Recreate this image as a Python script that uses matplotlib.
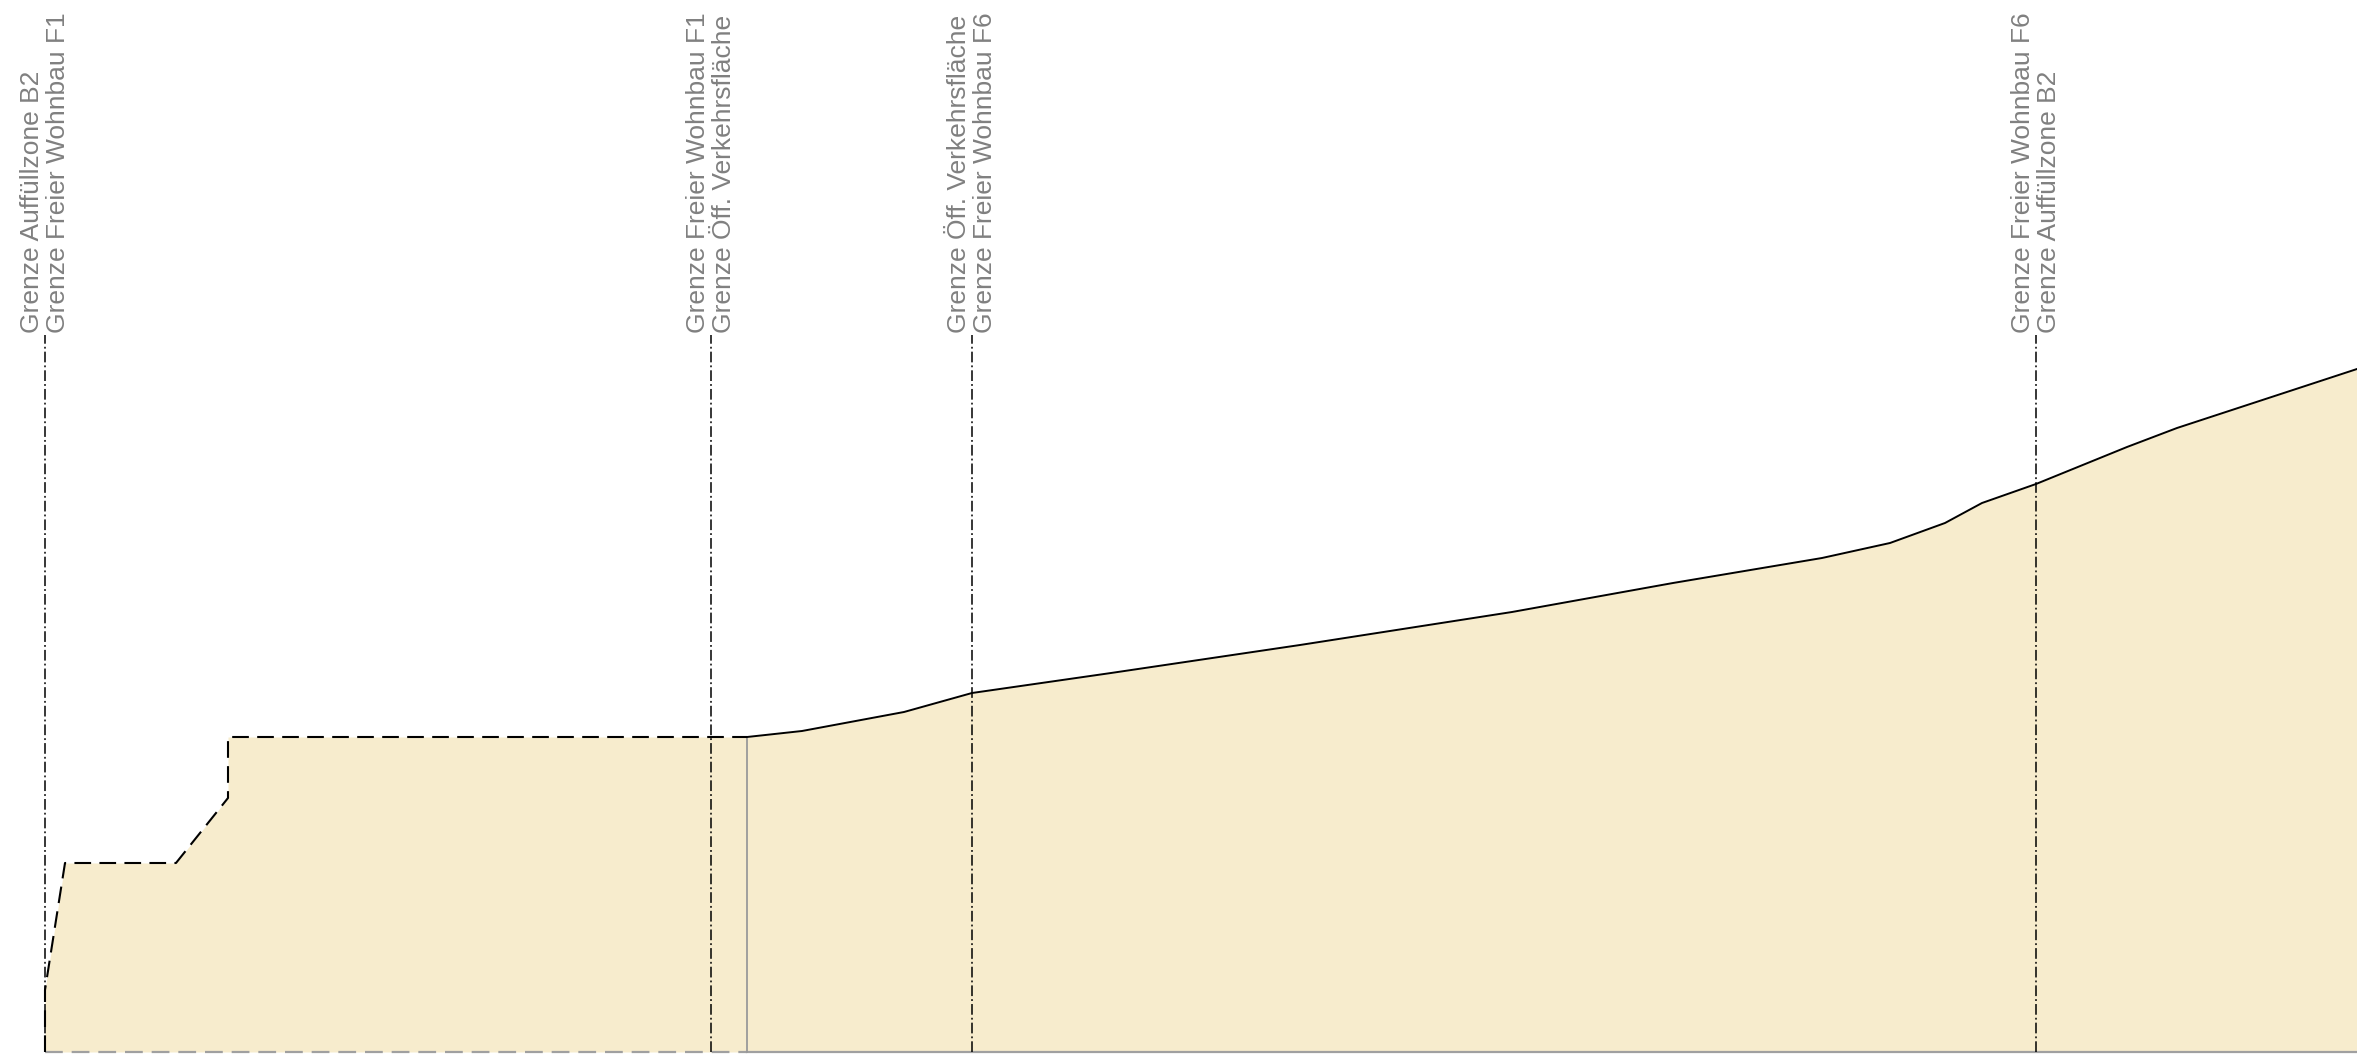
import matplotlib
matplotlib.use("Agg")
import matplotlib.pyplot as plt
import numpy as np

# Gelaendeschnitt: Abstand [m], Hoehe [m]
# geplante Aufschuettung (gestrichelt)
fill_x = [0.0, 0.0, 1.0, 6.55, 9.15, 9.15, 35.1]
fill_z = [100.0, 103.1, 109.45, 109.45, 112.7, 115.75, 115.75]

# bestehendes Gelaende (durchgezogen)
terrain_x = [35.1, 37.85, 42.95, 46.35, 53.3, 62.75, 73.35, 81.4, 88.85,
             92.25, 95.0, 96.85, 99.55, 104.1, 106.6, 115.6]
terrain_z = [115.75, 116.05, 117.0, 117.95, 118.95, 120.35, 122.0, 123.45,
             124.7, 125.45, 126.45, 127.45, 128.4, 130.25, 131.2, 134.15]

# Grenzen
boundary_x = [0.0, 33.3, 46.35, 99.55]
boundary_labels = [
    "Grenze Auffüllzone B2\nGrenze Freier Wohnbau F1",
    "Grenze Freier Wohnbau F1\nGrenze Öff. Verkehrsfläche",
    "Grenze Öff. Verkehrsfläche\nGrenze Freier Wohnbau F6",
    "Grenze Freier Wohnbau F6\nGrenze Auffüllzone B2",
]
boundary_top = 135.85
base_z = 100.0

fig = plt.figure(figsize=(23.57, 10.60), dpi=100)
ax = fig.add_axes([0, 0, 1, 1])

# Flaeche
prof_x = np.array(fill_x + terrain_x[1:])
prof_z = np.array(fill_z + terrain_z[1:])
ax.fill_between(prof_x, base_z, prof_z, color="#F7ECCD", lw=0, zorder=1)

# Basislinie
ax.plot([fill_x[0], fill_x[-1]], [base_z, base_z], color="#A0A0A0", lw=1.6,
        dashes=(8, 4), zorder=2)
ax.plot([terrain_x[0], terrain_x[-1]], [base_z, base_z], color="#A0A0A0", lw=1.6,
        zorder=2)
ax.plot([fill_x[-1], fill_x[-1]], [base_z, fill_z[-1]], color="#999999", lw=1.3,
        zorder=2)

# Profile
ax.plot(fill_x, fill_z, color="black", lw=1.5, dashes=(8, 4), zorder=3)
ax.plot(terrain_x, terrain_z, color="black", lw=1.4, zorder=3)

# Grenzlinien mit Beschriftung
for bx, label in zip(boundary_x, boundary_labels):
    ax.plot([bx, bx], [base_z, boundary_top], color="black", lw=1.1,
            dashes=(7, 2, 1.2, 2), zorder=4)
    ax.text(bx, boundary_top + 0.1, label, rotation=90, ha="center", va="bottom",
            multialignment="left", color="#808080", fontsize=19,
            family="Liberation Sans", linespacing=1.1, zorder=5)

ax.set_xlim(-2.25, 115.6)
ax.set_ylim(99.6, 152.6)
ax.axis("off")

fig.savefig("out.png", dpi=100)
